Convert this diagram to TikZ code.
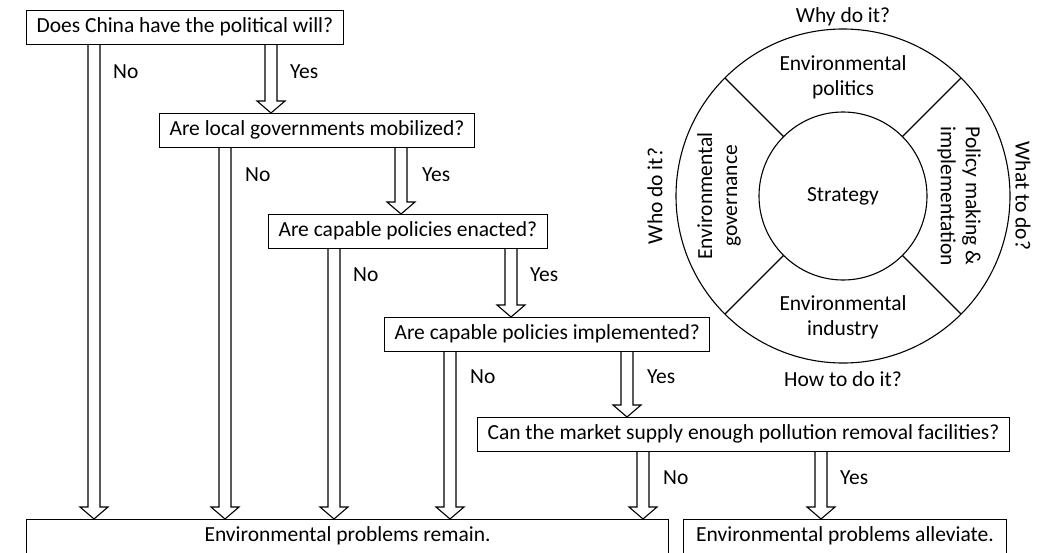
\documentclass[tikz,border=0pt]{standalone}
\usepackage{fontspec}
\setmainfont{Carlito}
\usetikzlibrary{calc}

\tikzset{
    qbox/.style={draw, line width=1.1pt, anchor=north west, inner xsep=10pt, inner ysep=7pt, text height=15pt, text depth=5pt},
    endbox/.style={qbox, text depth=30pt},
    blockarr/.style={draw, line width=1.1pt, line join=miter},
    ring/.style={draw, line width=1.1pt},
    lbl/.style={anchor=west, inner sep=0pt}
}

% hollow block arrow: from node anchor #1, at x = #2, down to node anchor #3
\newcommand{\blockarrow}[3]{%
    \draw[blockarr] let \p1=(#1), \p2=(#3), \p3=(#2,0) in
        (\x3-6pt,\y1) -- (\x3-6pt,\y2+12pt) -- (\x3-14pt,\y2+12pt) -- (\x3,\y2)
        -- (\x3+14pt,\y2+12pt) -- (\x3+6pt,\y2+12pt) -- (\x3+6pt,\y1);
}

\begin{document}
\begin{tikzpicture}[x=1pt, y=-1pt, font=\fontsize{21.5}{25}\selectfont]
    \useasboundingbox (0,0) rectangle (1050,552);

    \node[qbox] (q1) at (26,10) {Does China have the political will?};
    \node[qbox] (q2) at (159,113) {Are local governments mobilized?};
    \node[qbox] (q3) at (268,214) {Are capable policies enacted?};
    \node[qbox] (q4) at (384,317) {Are capable policies implemented?};
    \node[qbox] (q5) at (477,417) {Can the market supply enough pollution removal facilities?};
    \node[endbox, minimum width=642pt] (remain) at (26,519) {Environmental problems remain.};
    \node[endbox, minimum width=323pt] (alleviate) at (683,519) {Environmental problems alleviate.};

    \blockarrow{q1.south}{94}{remain.north}
    \blockarrow{q1.south}{271}{q2.north}
    \blockarrow{q2.south}{225}{remain.north}
    \blockarrow{q2.south}{401}{q3.north}
    \blockarrow{q3.south}{334}{remain.north}
    \blockarrow{q3.south}{511}{q4.north}
    \blockarrow{q4.south}{450}{remain.north}
    \blockarrow{q4.south}{627}{q5.north}
    \blockarrow{q5.south}{643}{remain.north}
    \blockarrow{q5.south}{821}{alleviate.north}

    \node[lbl] (no1) at (113,72) {No};
    \node[lbl] (yes1) at (290,72) {Yes};
    \node[lbl] (no2) at (245,175) {No};
    \node[lbl] (yes2) at (422,175) {Yes};
    \node[lbl] (no3) at (353,275) {No};
    \node[lbl] (yes3) at (530,275) {Yes};
    \node[lbl] (no4) at (470,377) {No};
    \node[lbl] (yes4) at (647,377) {Yes};
    \node[lbl] (no5) at (663,478) {No};
    \node[lbl] (yes5) at (840,478) {Yes};

    % strategy wheel
    \coordinate (hub) at (843,196);
    \draw[ring] (hub) circle (167);
    \node[ring, circle, minimum size=168pt, inner sep=0pt] (strategy) at (hub) {Strategy};
    \foreach \a in {45,135,225,315}
        \draw[ring] ($(hub)+(\a:84)$) -- ($(hub)+(\a:167)$);

    \node[align=center] (politics) at (843,77) {Environmental\\politics};
    \node[align=center] (industry) at (843,317) {Environmental\\industry};
    \node[align=center, rotate=90] (governance) at (719,196) {Environmental\\governance};
    \node[align=center, rotate=-90] (policy) at (959,196) {Policy making \&\\implementation};

    \node (why) at (843,17) {Why do it?};
    \node (how) at (843,379) {How to do it?};
    \node[rotate=90] (who) at (655,196) {Who do it?};
    \node[rotate=-90] (what) at (1023,196) {What to do?};
\end{tikzpicture}
\end{document}
